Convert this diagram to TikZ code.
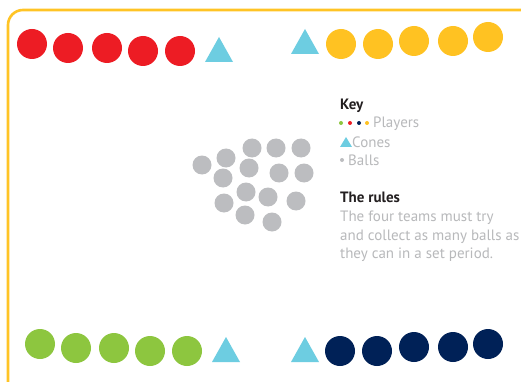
\documentclass[tikz,border=0pt]{standalone}
\usepackage{fontspec}
\setmainfont{PT Sans}
\definecolor{fr}{HTML}{FFC425}
\definecolor{pred}{HTML}{ED1C24}
\definecolor{pyel}{HTML}{FFC222}
\definecolor{pgrn}{HTML}{8DC63F}
\definecolor{pnav}{HTML}{002157}
\definecolor{pcone}{HTML}{6DCDE1}
\definecolor{pball}{HTML}{BCBDC0}
\definecolor{ptxt}{HTML}{B8B9BB}
\definecolor{phead}{HTML}{231F20}
\tikzset{
  frame/.style={draw=fr, line width=2.6pt, rounded corners=15pt},
  conefill/.style={fill=pcone},
  bodytext/.style={anchor=base west, inner sep=0pt, text=ptxt, font=\fontsize{15}{18}\selectfont},
  headtext/.style={anchor=base west, inner sep=0pt, text=phead, font=\fontsize{15}{18}\selectfont\bfseries},
}
\newcommand{\mycone}[2]{\fill[conefill] (#1,#2) ++(-14,12) -- ++(28,0) -- ++(-14,-25) -- cycle;}
\begin{document}
\begin{tikzpicture}[x=1pt,y=-1pt]
\useasboundingbox (0,0) rectangle (521,382);
\fill[white] (0,0) rectangle (521,382);
\begin{scope}
\clip (0,0) rectangle (521,382);
\draw[frame] (8,10) rectangle (545,400);
\end{scope}
% red team
\foreach \x/\y in {32/44,68/48,107/48,143/51,180/51} \fill[pred] (\x,\y) circle (15);
\mycone{219}{50}
% yellow team
\mycone{305}{42}
\foreach \x/\y in {341/44,378/44,414/41,453/41,488/37} \fill[pyel] (\x,\y) circle (15);
% green team
\foreach \x/\y in {40/344,76/348,114/348,150/351,187/351} \fill[pgrn] (\x,\y) circle (15);
\mycone{226}{350}
% navy team
\mycone{305}{350}
\foreach \x/\y in {340/351,377/351,414/347,453/347,488/344} \fill[pnav] (\x,\y) circle (15);
% balls
\foreach \x/\y in {202/165,226/158,252/148,276/148,301/148,249/168,279/173,304/173,223/178,246/192,268/197,296/201,224/203,245/215,272/222}
  \fill[pball] (\x,\y) circle (9.5);
% key
\node[headtext] (key) at (340,110) {Key};
\fill[pgrn] (341,123) circle (2);
\fill[pred] (350,123) circle (2);
\fill[pnav] (359,123) circle (2);
\fill[pyel] (367,123) circle (2);
\node[bodytext] (players) at (373,128) {Players};
\fill[conefill] (340,147) -- (352,147) -- (346,137) -- cycle;
\node[bodytext] (cones) at (352,147) {Cones};
\fill[pball] (342,160) circle (2);
\node[bodytext] (balls) at (348,165) {Balls};
\node[headtext] (rules) at (340,202) {The rules};
\node[bodytext] (l1) at (340,221) {The four teams must try};
\node[bodytext] (l2) at (340,240) {and collect as many balls as};
\node[bodytext] (l3) at (340,258) {they can in a set period.};
\end{tikzpicture}
\end{document}
